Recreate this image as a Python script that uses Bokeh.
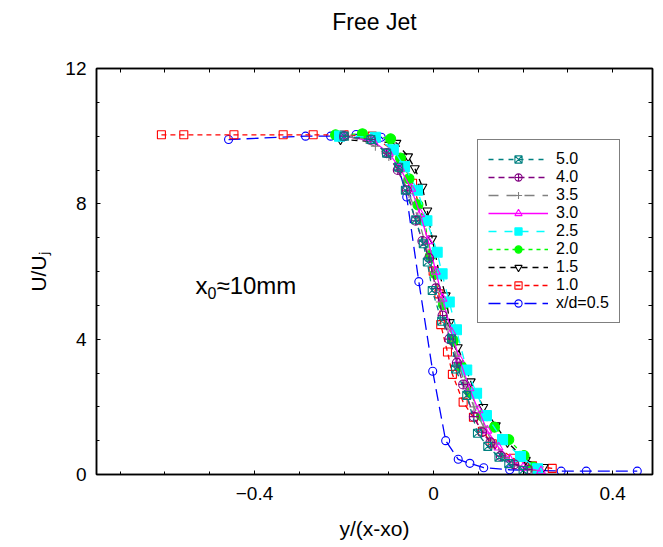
from bokeh.plotting import figure
from bokeh.models import (LinearAxis, SingleIntervalTicker, FixedTicker, Range1d,
                          Legend, LegendItem, Label)
from bokeh.embed import file_html
from bokeh.resources import INLINE
import numpy as np

FONT = "Liberation Sans"

# ---- data ----
x05 = [-0.458, -0.286, -0.23, -0.173, -0.117, -0.089, -0.06, -0.033, -0.002, 0.027,
       0.055, 0.081, 0.112, 0.17, 0.229, 0.285, 0.341, 0.455]
y05 = [9.9, 10.0, 10.0, 10.05, 9.97, 9.6, 8.2, 5.7, 3.05, 1.0,
       0.45, 0.33, 0.2, 0.14, 0.12, 0.1, 0.1, 0.1]

x10 = [-0.608, -0.558, -0.446, -0.336, -0.269, -0.2, -0.137, -0.092, -0.072, -0.047,
       -0.022, -0.001, 0.012, 0.016, 0.031, 0.042, 0.066, 0.089, 0.109, 0.131,
       0.178, 0.221, 0.265]
y10 = [10.04, 10.04, 10.04, 10.04, 10.04, 10.04, 10.0, 9.6, 9.26, 8.61,
       7.5, 6.01, 5.34, 4.43, 3.62, 2.96, 2.14, 1.69, 1.28, 0.91,
       0.48, 0.26, 0.18]

x15 = [-0.208, -0.083, -0.057, -0.042, -0.025, -0.014, -0.003, 0.012, 0.027, 0.036,
       0.054, 0.083, 0.111, 0.139, 0.165, 0.206, 0.246]
y15 = [9.9, 9.8, 9.4, 9.05, 8.5, 7.8, 6.97, 5.98, 5.29, 4.5,
       3.76, 2.75, 1.99, 1.45, 0.95, 0.43, 0.22]

x20 = [-0.219, -0.159, -0.096, -0.074, -0.055, -0.035, -0.02, -0.007, 0.004, 0.022,
       0.044, 0.062, 0.081, 0.107, 0.136, 0.168, 0.202, 0.223]
y20 = [10.04, 10.07, 9.92, 9.35, 8.74, 7.97, 7.5, 6.47, 5.93, 5.02,
       3.96, 3.2, 2.43, 1.74, 1.4, 1.03, 0.56, 0.22]

x25 = [-0.21, -0.13, -0.09, -0.065, -0.036, -0.015, 0.008, 0.019, 0.035, 0.051,
       0.074, 0.096, 0.118, 0.154, 0.194, 0.232]
y25 = [10.0, 9.97, 9.6, 9.1, 8.4, 7.5, 6.57, 5.93, 5.1, 4.28,
       3.09, 2.4, 1.74, 1.03, 0.53, 0.17]

x30 = [-0.2, -0.135, -0.1, -0.075, -0.05, -0.03, -0.012, 0.005, 0.02, 0.04,
       0.058, 0.08, 0.1, 0.12, 0.145, 0.17, 0.2, 0.24]
y30 = [10.0, 9.85, 9.5, 9.05, 8.45, 7.7, 6.9, 6.0, 5.2, 4.2,
       3.4, 2.55, 1.9, 1.3, 0.8, 0.45, 0.2, 0.1]

x35 = [-0.19, -0.13, -0.1, -0.075, -0.055, -0.035, -0.018, -0.002, 0.015, 0.032,
       0.05, 0.07, 0.09, 0.112, 0.135, 0.16, 0.19, 0.22]
y35 = [10.0, 9.7, 9.4, 8.95, 8.3, 7.6, 6.8, 6.0, 5.1, 4.3,
       3.5, 2.7, 2.0, 1.4, 0.9, 0.5, 0.25, 0.12]

x40 = [-0.2, -0.14, -0.105, -0.08, -0.06, -0.04, -0.025, -0.01, 0.005, 0.02,
       0.035, 0.052, 0.066, 0.09, 0.108, 0.127, 0.15, 0.18, 0.21]
y40 = [10.0, 9.9, 9.5, 9.0, 8.4, 7.5, 6.9, 6.4, 5.5, 4.7,
       4.0, 3.3, 2.66, 1.71, 1.25, 0.95, 0.55, 0.3, 0.15]

x50 = [-0.2, -0.14, -0.105, -0.078, -0.063, -0.04, -0.023, -0.014, -0.003, 0.018,
       0.04, 0.049, 0.074, 0.098, 0.121, 0.146, 0.168, 0.2]
y50 = [10.0, 9.9, 9.5, 9.08, 8.4, 7.53, 6.82, 6.28, 5.44, 4.53,
       4.01, 3.12, 2.34, 1.22, 0.83, 0.51, 0.32, 0.12]

labels = ["x/d=0.5", "1.0", "1.5", "2.0", "2.5", "3.0", "3.5", "4.0", "5.0"]
xs = [x05, x10, x15, x20, x25, x30, x35, x40, x50]
ys = [y05, y10, y15, y20, y25, y30, y35, y40, y50]

# ---- styles ----
colors = ["#0000ff", "#ff0000", "#000000", "#00ff00", "#00ffff", "#ff00ff",
          "#808080", "#800080", "#008080"]
markers = ["circle", "square", "inverted_triangle", "circle", "square", "triangle",
           "cross", "circle_cross", "square_x"]
filled = [False, False, False, True, True, False, False, False, False]
dashes = ["12 6", "5 4", "6 5", "4 4", "8 8", "solid", "10 8", "6 4", "5 5"]
msizes = [8, 8, 9, 10, 10, 9, 9, 9, 8]

p = figure(width=660, height=543, output_backend="svg", toolbar_location=None,
           x_range=Range1d(-0.753, 0.489), y_range=Range1d(0, 12),
           min_border_left=96, min_border_right=8, min_border_top=68,
           min_border_bottom=69)
p.background_fill_color = "white"
p.border_fill_color = "white"
p.outline_line_color = "black"
p.outline_line_width = 1.5
p.xgrid.visible = False
p.ygrid.visible = False

def style_axis(ax):
    ax.axis_line_color = "black"
    ax.axis_line_width = 1.5
    ax.major_tick_in = 4
    ax.major_tick_out = 0
    ax.minor_tick_in = 3
    ax.minor_tick_out = 0
    ax.major_tick_line_color = "black"
    ax.minor_tick_line_color = "black"
    ax.major_label_text_font = FONT
    ax.major_label_text_color = "black"
    ax.axis_label_text_font = FONT
    ax.axis_label_text_color = "black"
    ax.axis_label_text_font_style = "normal"

p.xaxis.ticker = SingleIntervalTicker(interval=0.4, num_minor_ticks=4)
p.yaxis.ticker = SingleIntervalTicker(interval=4, num_minor_ticks=4)
for ax in p.xaxis + p.yaxis:
    style_axis(ax)
    ax.major_label_text_font_size = "19px"
    ax.axis_label_text_font_size = "21px"
p.xaxis.axis_label = "y/(x-xo)"
p.xaxis.major_label_standoff = 12
p.xaxis.axis_label_standoff = 14
p.yaxis.axis_label = "U/U\u2c7c"
p.yaxis.major_label_standoff = 10
p.yaxis.axis_label_standoff = 12

# mirrored tick marks on top and right (no tick labels); the chart title
# "Free Jet" is carried by the top axis so it sits high above the frame
top = LinearAxis(ticker=FixedTicker(ticks=[],
                 minor_ticks=list(np.round(np.arange(-0.7, 0.45, 0.1), 2))))
right = LinearAxis(ticker=FixedTicker(ticks=[], minor_ticks=list(range(1, 12))))
for ax in (top, right):
    style_axis(ax)
    ax.minor_tick_in = 4
top.axis_label = "Free Jet"
top.axis_label_text_font_size = "23px"
top.axis_label_standoff = 34
p.add_layout(top, "above")
p.add_layout(right, "right")

items = {}
for lab, x, y, c, m, f, d, s in zip(labels, xs, ys, colors, markers, filled, dashes, msizes):
    lr = p.line(x, y, line_color=c, line_width=1.3, line_dash=d)
    sr = p.scatter(x, y, marker=m, size=s, line_color=c, line_width=1.1,
                   fill_color=c if f else None, fill_alpha=1.0 if f else 0.0)
    items[lab] = [lr, sr]

order = ["5.0", "4.0", "3.5", "3.0", "2.5", "2.0", "1.5", "1.0", "x/d=0.5"]
legend = Legend(items=[LegendItem(label=l, renderers=items[l]) for l in order],
                location=(381, 151))
legend.label_text_font = FONT
legend.label_text_font_size = "16px"
legend.label_text_color = "black"
legend.glyph_width = 60
legend.glyph_height = 18
legend.label_height = 18
legend.spacing = 0
legend.padding = 10
legend.margin = 0
legend.label_standoff = 8
legend.border_line_color = "black"
legend.border_line_width = 1.2
legend.background_fill_alpha = 1.0
p.add_layout(legend, "center")

# x0 ~ 10mm annotation
p.add_layout(Label(x=99, y=189, x_units="screen", y_units="screen", text="x",
                   text_font=FONT, text_font_size="24px", text_baseline="middle",
                   text_color="black"))
p.add_layout(Label(x=111, y=182, x_units="screen", y_units="screen", text="0",
                   text_font=FONT, text_font_size="16px", text_baseline="middle",
                   text_color="black"))
p.add_layout(Label(x=120, y=189, x_units="screen", y_units="screen", text="≈10mm",
                   text_font=FONT, text_font_size="24px", text_baseline="middle",
                   text_color="black"))

open("out.html", "w").write(file_html(p, INLINE))
